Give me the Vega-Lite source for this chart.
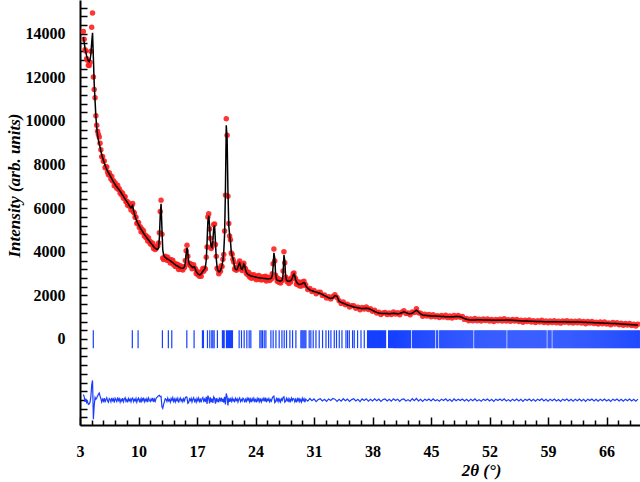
{
"$schema":"https://vega.github.io/schema/vega-lite/v6.json",
"width":560,"height":425,"autosize":"none",
"padding":{"left":80,"top":0,"right":0,"bottom":57},
"background":"white",
"config":{"view":{"stroke":null},
"axis":{"domainColor":"black","domainWidth":2,"tickColor":"black","tickWidth":1.5,"grid":false,"labelFont":"Liberation Serif","labelFontWeight":"bold","labelFontSize":16,"labelColor":"black","titleFont":"Liberation Serif","titleFontWeight":"bold","titleFontStyle":"italic","titleColor":"black","labelOverlap":false,"labelFlush":false,"labelBound":false}},
"datasets":{
"bragg":[4.59,9.26,9.95,12.86,13.57,13.98,15.78,16.65,17.65,17.77,18.25,18.53,18.77,18.9,19.05,19.44,20.04,20.16,20.25,20.52,20.64,20.76,20.88,21.0,21.12,21.24,22.04,22.32,22.64,22.96,23.24,23.44,24.52,24.67,24.83,25.04,25.24,25.84,26.11,26.44,26.83,27.16,27.43,27.71,28.11,28.43,28.83,29.43,29.55,29.67,29.79,29.91,30.03,30.42,30.62,30.9,31.23,31.62,32.02,32.43,32.74,33.02,33.42,33.69,34.02,34.34,34.82,35.01,35.22,35.61,35.81,36.21,36.62,37.01,37.4,37.52,37.64,37.76,37.88,38.0,38.12,38.24,38.36,38.48,38.6,38.72,38.84,38.96,39.08,39.2,39.32,39.44,39.56,39.92,40.04,40.16,40.28,40.4,40.52,40.64,40.76,40.88,41.0,41.12,41.24,41.36,41.48,41.6,41.72,41.84,41.96,42.08,42.2,42.32,42.44,42.56,42.8,42.92,43.04,43.16,43.28,43.4,43.52,43.64,43.76,43.88,44.0,44.12,44.24,44.36,44.48,44.6,44.72,44.84,44.96,45.08,45.2,45.32,45.44,45.68,45.8,46.04,46.16,46.28,46.4,46.52,46.64,46.76,46.88,47.0,47.12,47.24,47.36,47.48,47.6,47.72,47.84,47.96,48.08,48.2,48.32,48.44,48.56,48.68,48.8,48.92,49.04,49.16,49.28,49.4,49.52,49.64,49.76,49.88,50.0,50.24,50.36,50.48,50.6,50.72,50.84,50.96,51.08,51.2,51.32,51.44,51.56,51.68,51.8,51.92,52.04,52.16,52.28,52.4,52.52,52.64,52.76,52.88,53.0,53.12,53.24,53.36,53.48,53.6,53.72,53.84,53.96,54.2,54.32,54.44,54.56,54.68,54.8,54.92,55.04,55.16,55.28,55.4,55.52,55.64,55.76,55.88,56.0,56.12,56.24,56.36,56.48,56.6,56.72,56.84,56.96,57.08,57.2,57.32,57.44,57.56,57.68,57.8,57.92,58.04,58.16,58.28,58.4,58.52,58.64,58.76,59.0,59.12,59.24,59.36,59.6,59.72,59.84,59.96,60.08,60.2,60.32,60.44,60.56,60.68,60.8,60.92,61.04,61.16,61.28,61.4,61.52,61.64,61.76,61.88,62.0,62.12,62.24,62.36,62.48,62.6,62.72,62.84,62.96,63.08,63.2,63.32,63.44,63.56,63.68,63.8,63.92,64.04,64.16,64.28,64.4,64.52,64.64,64.76,64.88,65.0,65.12,65.24,65.36,65.48,65.6,65.72,65.84,65.96,66.08,66.2,66.32,66.44,66.56,66.68,66.8,66.92,67.04,67.16,67.28,67.4,67.52,67.64,67.76,67.88,68.0,68.12,68.24,68.36,68.48,68.6,68.72,68.84,68.96,69.08,69.2,69.32,69.44,69.56,69.68,69.8,69.92],
"prof":[
{"x":3.4,"o":14100,"c":13850,"d":-2550},{"x":3.5,"o":13750,"c":13600,"d":-2650},{"x":3.6,"o":13270,"c":13350,"d":-2880},{"x":3.7,"o":13210,"c":13150,"d":-2740},{"x":3.8,"o":12860,"c":12980,"d":-2920},{"x":3.9,"o":12790,"c":12850,"d":-2860},{"x":4.0,"o":12560,"c":12760,"d":-3000},{"x":4.1,"o":12540,"c":12720,"d":-2980},{"x":4.2,"o":12700,"c":12800,"d":-2900},{"x":4.3,"o":13200,"c":13050,"d":-2650},
{"x":4.4,"o":14300,"c":13600,"d":-2100},{"x":4.5,"o":14950,"c":14050,"d":-1900},{"x":4.6,"o":12020,"c":12900,"d":-3680},{"x":4.7,"o":11450,"c":11700,"d":-3050},{"x":4.8,"o":11070,"c":10950,"d":-2680},{"x":4.9,"o":10240,"c":10200,"d":-2760},{"x":5.0,"o":9800,"c":9700,"d":-2700},{"x":5.1,"o":9530,"c":9350,"d":-2620},{"x":5.2,"o":9380,"c":9120,"d":-2540},{"x":5.3,"o":9270,"c":8950,"d":-2480},
{"x":5.4,"o":8980,"c":8800,"d":-2620},{"x":5.5,"o":8680,"c":8620,"d":-2740},{"x":5.6,"o":8360,"c":8450,"d":-2890},{"x":5.7,"o":8370,"c":8330,"d":-2760},{"x":5.8,"o":8150,"c":8200,"d":-2850},{"x":5.9,"o":8170,"c":8080,"d":-2710},{"x":6.0,"o":7860,"c":7970,"d":-2910},{"x":6.1,"o":7900,"c":7870,"d":-2770},{"x":6.2,"o":7890,"c":7780,"d":-2690},{"x":6.3,"o":7660,"c":7700,"d":-2840},
{"x":6.4,"o":7530,"c":7630,"d":-2900},{"x":6.5,"o":7630,"c":7560,"d":-2730},{"x":6.6,"o":7510,"c":7490,"d":-2780},{"x":6.7,"o":7340,"c":7420,"d":-2880},{"x":6.8,"o":7450,"c":7350,"d":-2700},{"x":6.9,"o":7250,"c":7280,"d":-2830},{"x":7.0,"o":7260,"c":7210,"d":-2750},{"x":7.1,"o":7030,"c":7150,"d":-2920},{"x":7.2,"o":7170,"c":7090,"d":-2720},{"x":7.3,"o":7040,"c":7030,"d":-2790},
{"x":7.4,"o":6910,"c":6980,"d":-2870},{"x":7.5,"o":7050,"c":6930,"d":-2680},{"x":7.6,"o":6860,"c":6880,"d":-2820},{"x":7.7,"o":6890,"c":6830,"d":-2740},{"x":7.8,"o":6680,"c":6780,"d":-2900},{"x":7.9,"o":6750,"c":6720,"d":-2770},{"x":8.0,"o":6610,"c":6660,"d":-2850},{"x":8.1,"o":6690,"c":6600,"d":-2710},{"x":8.2,"o":6460,"c":6540,"d":-2880},{"x":8.3,"o":6520,"c":6480,"d":-2760},
{"x":8.4,"o":6530,"c":6420,"d":-2690},{"x":8.5,"o":6300,"c":6360,"d":-2860},{"x":8.6,"o":6320,"c":6300,"d":-2780},{"x":8.7,"o":6130,"c":6240,"d":-2910},{"x":8.8,"o":6250,"c":6180,"d":-2730},{"x":8.9,"o":6090,"c":6120,"d":-2830},{"x":9.0,"o":6110,"c":6060,"d":-2750},{"x":9.1,"o":5920,"c":6010,"d":-2890},{"x":9.2,"o":6140,"c":6080,"d":-2740},{"x":9.3,"o":6220,"c":6120,"d":-2700},
{"x":9.4,"o":5830,"c":5900,"d":-2870},{"x":9.5,"o":5780,"c":5750,"d":-2770},{"x":9.6,"o":5580,"c":5620,"d":-2840},{"x":9.7,"o":5580,"c":5500,"d":-2720},{"x":9.8,"o":5300,"c":5400,"d":-2900},{"x":9.9,"o":5340,"c":5320,"d":-2780},{"x":10.0,"o":5340,"c":5250,"d":-2710},{"x":10.1,"o":5120,"c":5180,"d":-2860},{"x":10.2,"o":5150,"c":5110,"d":-2760},{"x":10.3,"o":4920,"c":5040,"d":-2920},
{"x":10.4,"o":5050,"c":4980,"d":-2730},{"x":10.5,"o":4900,"c":4920,"d":-2820},{"x":10.6,"o":4970,"c":4860,"d":-2690},{"x":10.7,"o":4720,"c":4800,"d":-2880},{"x":10.8,"o":4770,"c":4740,"d":-2770},{"x":10.9,"o":4640,"c":4690,"d":-2850},{"x":11.0,"o":4700,"c":4640,"d":-2740},{"x":11.1,"o":4490,"c":4590,"d":-2900},{"x":11.2,"o":4630,"c":4540,"d":-2710},{"x":11.3,"o":4490,"c":4490,"d":-2800},
{"x":11.4,"o":4370,"c":4440,"d":-2870},{"x":11.5,"o":4440,"c":4390,"d":-2750},{"x":11.6,"o":4310,"c":4340,"d":-2830},{"x":11.7,"o":4390,"c":4290,"d":-2700},{"x":11.8,"o":4150,"c":4240,"d":-2890},{"x":11.9,"o":4240,"c":4200,"d":-2760},{"x":12.0,"o":4100,"c":4160,"d":-2860},{"x":12.1,"o":4210,"c":4130,"d":-2720},{"x":12.2,"o":4230,"c":4110,"d":-2680},{"x":12.3,"o":4270,"c":4110,"d":-2640},
{"x":12.4,"o":4400,"c":4200,"d":-2600},{"x":12.5,"o":4870,"c":4650,"d":-2580},{"x":12.6,"o":5850,"c":5700,"d":-2650},{"x":12.7,"o":6370,"c":6200,"d":-2630},{"x":12.8,"o":4800,"c":5100,"d":-3100},{"x":12.9,"o":3720,"c":4100,"d":-3180},{"x":13.0,"o":3650,"c":3850,"d":-3000},{"x":13.1,"o":3700,"c":3780,"d":-2880},{"x":13.2,"o":3800,"c":3740,"d":-2740},{"x":13.3,"o":3740,"c":3710,"d":-2770},
{"x":13.4,"o":3610,"c":3680,"d":-2870},{"x":13.5,"o":3750,"c":3660,"d":-2710},{"x":13.6,"o":3600,"c":3640,"d":-2840},{"x":13.7,"o":3640,"c":3620,"d":-2780},{"x":13.8,"o":3490,"c":3590,"d":-2900},{"x":13.9,"o":3630,"c":3560,"d":-2730},{"x":14.0,"o":3510,"c":3530,"d":-2820},{"x":14.1,"o":3610,"c":3500,"d":-2690},{"x":14.2,"o":3410,"c":3470,"d":-2860},{"x":14.3,"o":3480,"c":3440,"d":-2760},
{"x":14.4,"o":3320,"c":3410,"d":-2890},{"x":14.5,"o":3440,"c":3380,"d":-2740},{"x":14.6,"o":3330,"c":3360,"d":-2830},{"x":14.7,"o":3420,"c":3340,"d":-2720},{"x":14.8,"o":3190,"c":3310,"d":-2920},{"x":14.9,"o":3300,"c":3290,"d":-2790},{"x":15.0,"o":3360,"c":3270,"d":-2710},{"x":15.1,"o":3200,"c":3250,"d":-2850},{"x":15.2,"o":3270,"c":3240,"d":-2770},{"x":15.3,"o":3160,"c":3240,"d":-2880},
{"x":15.4,"o":3320,"c":3260,"d":-2740},{"x":15.5,"o":3280,"c":3320,"d":-2840},{"x":15.6,"o":3600,"c":3500,"d":-2700},{"x":15.7,"o":4050,"c":3900,"d":-2650},{"x":15.8,"o":4300,"c":4180,"d":-2680},{"x":15.9,"o":3800,"c":3950,"d":-2950},{"x":16.0,"o":3430,"c":3550,"d":-2920},{"x":16.1,"o":3470,"c":3420,"d":-2750},{"x":16.2,"o":3360,"c":3380,"d":-2820},{"x":16.3,"o":3430,"c":3350,"d":-2720},
{"x":16.4,"o":3220,"c":3310,"d":-2890},{"x":16.5,"o":3320,"c":3280,"d":-2760},{"x":16.6,"o":3410,"c":3300,"d":-2690},{"x":16.7,"o":3250,"c":3310,"d":-2860},{"x":16.8,"o":3220,"c":3200,"d":-2780},{"x":16.9,"o":3000,"c":3100,"d":-2900},{"x":17.0,"o":3110,"c":3040,"d":-2730},{"x":17.1,"o":2950,"c":2990,"d":-2840},{"x":17.2,"o":3050,"c":2960,"d":-2710},{"x":17.3,"o":2880,"c":2950,"d":-2870},
{"x":17.4,"o":2990,"c":2960,"d":-2770},{"x":17.5,"o":2880,"c":2990,"d":-2910},{"x":17.6,"o":3110,"c":3050,"d":-2740},{"x":17.7,"o":3230,"c":3110,"d":-2680},{"x":17.8,"o":3110,"c":3160,"d":-2850},{"x":17.9,"o":3240,"c":3200,"d":-2760},{"x":18.0,"o":3210,"c":3300,"d":-2890},{"x":18.1,"o":3750,"c":3600,"d":-2650},{"x":18.2,"o":4220,"c":4400,"d":-2980},{"x":18.3,"o":5600,"c":5400,"d":-2600},
{"x":18.4,"o":5750,"c":5650,"d":-2700},{"x":18.5,"o":5050,"c":5200,"d":-2950},{"x":18.6,"o":4620,"c":4500,"d":-2680},{"x":18.7,"o":4150,"c":4250,"d":-2900},{"x":18.8,"o":4260,"c":4200,"d":-2740},{"x":18.9,"o":4370,"c":4500,"d":-2930},{"x":19.0,"o":5250,"c":5100,"d":-2650},{"x":19.1,"o":5280,"c":5200,"d":-2720},{"x":19.2,"o":4330,"c":4500,"d":-2970},{"x":19.3,"o":3790,"c":3700,"d":-2710},
{"x":19.4,"o":3240,"c":3300,"d":-2860},{"x":19.5,"o":3190,"c":3150,"d":-2760},{"x":19.6,"o":2990,"c":3090,"d":-2900},{"x":19.7,"o":3160,"c":3090,"d":-2730},{"x":19.8,"o":3110,"c":3140,"d":-2830},{"x":19.9,"o":3360,"c":3250,"d":-2690},{"x":20.0,"o":3320,"c":3400,"d":-2880},{"x":20.1,"o":3660,"c":3600,"d":-2740},{"x":20.2,"o":3880,"c":4000,"d":-2920},{"x":20.3,"o":4950,"c":4800,"d":-2650},
{"x":20.4,"o":6600,"c":6800,"d":-3000},{"x":20.5,"o":10100,"c":9800,"d":-2500},{"x":20.6,"o":9350,"c":9200,"d":-2650},{"x":20.7,"o":6550,"c":6800,"d":-3050},{"x":20.8,"o":5300,"c":5200,"d":-2700},{"x":20.9,"o":4720,"c":4800,"d":-2880},{"x":21.0,"o":4550,"c":4500,"d":-2750},{"x":21.1,"o":3940,"c":4000,"d":-2860},{"x":21.2,"o":3890,"c":3800,"d":-2710},{"x":21.3,"o":3660,"c":3700,"d":-2840},
{"x":21.4,"o":3530,"c":3500,"d":-2770},{"x":21.5,"o":3200,"c":3300,"d":-2900},{"x":21.6,"o":3280,"c":3200,"d":-2720},{"x":21.7,"o":3150,"c":3170,"d":-2820},{"x":21.8,"o":3260,"c":3200,"d":-2740},{"x":21.9,"o":3210,"c":3300,"d":-2890},{"x":22.0,"o":3460,"c":3420,"d":-2760},{"x":22.1,"o":3580,"c":3480,"d":-2700},{"x":22.2,"o":3280,"c":3350,"d":-2870},{"x":22.3,"o":3220,"c":3200,"d":-2780},
{"x":22.4,"o":3140,"c":3190,"d":-2850},{"x":22.5,"o":3390,"c":3300,"d":-2710},{"x":22.6,"o":3480,"c":3430,"d":-2750},{"x":22.7,"o":3270,"c":3380,"d":-2910},{"x":22.8,"o":3210,"c":3180,"d":-2770},{"x":22.9,"o":3000,"c":3060,"d":-2860},{"x":23.0,"o":3080,"c":3000,"d":-2720},{"x":23.1,"o":2940,"c":2960,"d":-2820},{"x":23.2,"o":3050,"c":2940,"d":-2690},{"x":23.3,"o":2840,"c":2920,"d":-2880},
{"x":23.4,"o":2940,"c":2900,"d":-2760},{"x":23.5,"o":2790,"c":2890,"d":-2900},{"x":23.6,"o":2940,"c":2880,"d":-2740},{"x":23.7,"o":2840,"c":2870,"d":-2830},{"x":23.8,"o":2950,"c":2860,"d":-2710},{"x":23.9,"o":2790,"c":2850,"d":-2860},{"x":24.0,"o":2860,"c":2840,"d":-2780},{"x":24.1,"o":2720,"c":2830,"d":-2910},{"x":24.2,"o":2890,"c":2820,"d":-2730},{"x":24.3,"o":2775,"c":2815,"d":-2840},
{"x":24.4,"o":2910,"c":2810,"d":-2700},{"x":24.5,"o":2735,"c":2805,"d":-2870},{"x":24.6,"o":2830,"c":2800,"d":-2770},{"x":24.7,"o":2705,"c":2795,"d":-2890},{"x":24.8,"o":2840,"c":2790,"d":-2750},{"x":24.9,"o":2765,"c":2785,"d":-2820},{"x":25.0,"o":2860,"c":2780,"d":-2720},{"x":25.1,"o":2715,"c":2775,"d":-2860},{"x":25.2,"o":2880,"c":2770,"d":-2690},{"x":25.3,"o":2665,"c":2765,"d":-2900},
{"x":25.4,"o":2800,"c":2760,"d":-2760},{"x":25.5,"o":2730,"c":2760,"d":-2830},{"x":25.6,"o":2830,"c":2760,"d":-2730},{"x":25.7,"o":2680,"c":2760,"d":-2880},{"x":25.8,"o":2790,"c":2770,"d":-2780},{"x":25.9,"o":2750,"c":2800,"d":-2850},{"x":26.0,"o":2990,"c":2900,"d":-2710},{"x":26.1,"o":3450,"c":3300,"d":-2650},{"x":26.2,"o":4130,"c":3950,"d":-2620},{"x":26.3,"o":3580,"c":3700,"d":-2920},
{"x":26.4,"o":2920,"c":3000,"d":-2880},{"x":26.5,"o":2810,"c":2750,"d":-2740},{"x":26.6,"o":2650,"c":2690,"d":-2840},{"x":26.7,"o":2780,"c":2680,"d":-2700},{"x":26.8,"o":2600,"c":2670,"d":-2870},{"x":26.9,"o":2690,"c":2660,"d":-2770},{"x":27.0,"o":2570,"c":2660,"d":-2890},{"x":27.1,"o":2720,"c":2670,"d":-2750},{"x":27.2,"o":2680,"c":2700,"d":-2820},{"x":27.3,"o":3120,"c":3000,"d":-2680},
{"x":27.4,"o":4000,"c":3850,"d":-2650},{"x":27.5,"o":3500,"c":3600,"d":-2900},{"x":27.6,"o":2840,"c":2900,"d":-2860},{"x":27.7,"o":2780,"c":2700,"d":-2720},{"x":27.8,"o":2630,"c":2660,"d":-2830},{"x":27.9,"o":2710,"c":2650,"d":-2740},{"x":28.0,"o":2550,"c":2650,"d":-2900},{"x":28.1,"o":2700,"c":2660,"d":-2760},{"x":28.2,"o":2620,"c":2680,"d":-2860},{"x":28.3,"o":2810,"c":2720,"d":-2710},
{"x":28.4,"o":2780,"c":2800,"d":-2820},{"x":28.5,"o":2990,"c":2920,"d":-2730},{"x":28.6,"o":3030,"c":2980,"d":-2750},{"x":28.7,"o":2820,"c":2900,"d":-2880},{"x":28.8,"o":2750,"c":2720,"d":-2770},{"x":28.9,"o":2510,"c":2620,"d":-2910},{"x":29.0,"o":2620,"c":2560,"d":-2740},{"x":29.1,"o":2490,"c":2530,"d":-2840},{"x":29.2,"o":2610,"c":2510,"d":-2700},{"x":29.3,"o":2430,"c":2500,"d":-2870},
{"x":29.4,"o":2530,"c":2510,"d":-2780},{"x":29.5,"o":2430,"c":2520,"d":-2890},{"x":29.6,"o":2620,"c":2540,"d":-2720},{"x":29.7,"o":2540,"c":2570,"d":-2830},{"x":29.8,"o":2650,"c":2590,"d":-2740},{"x":29.9,"o":2460,"c":2560,"d":-2900},{"x":30.0,"o":2490,"c":2450,"d":-2760},
{"x":30.25,"o":2270,"c":2320,"d":-2850},{"x":30.5,"o":2320,"c":2250,"d":-2730},{"x":30.75,"o":2180,"c":2210,"d":-2830},{"x":31.0,"o":2230,"c":2180,"d":-2750},{"x":31.25,"o":2080,"c":2150,"d":-2870},{"x":31.5,"o":2140,"c":2120,"d":-2780},{"x":31.75,"o":2150,"c":2090,"d":-2740},{"x":32.0,"o":2000,"c":2040,"d":-2840},{"x":32.25,"o":2020,"c":1990,"d":-2770},{"x":32.5,"o":1880,"c":1940,"d":-2860},
{"x":32.75,"o":1940,"c":1890,"d":-2750},{"x":33.0,"o":1840,"c":1860,"d":-2820},{"x":33.25,"o":1950,"c":1880,"d":-2730},{"x":33.5,"o":2030,"c":1990,"d":-2760},{"x":33.75,"o":1900,"c":1960,"d":-2860},{"x":34.0,"o":1760,"c":1730,"d":-2770},{"x":34.25,"o":1630,"c":1680,"d":-2850},{"x":34.5,"o":1700,"c":1640,"d":-2740},{"x":34.75,"o":1570,"c":1600,"d":-2830},{"x":35.0,"o":1600,"c":1560,"d":-2760},
{"x":35.25,"o":1470,"c":1530,"d":-2860},{"x":35.5,"o":1520,"c":1500,"d":-2780},{"x":35.75,"o":1530,"c":1470,"d":-2740},{"x":36.0,"o":1410,"c":1450,"d":-2840},{"x":36.25,"o":1460,"c":1430,"d":-2770},{"x":36.5,"o":1340,"c":1410,"d":-2870},{"x":36.75,"o":1450,"c":1400,"d":-2750},{"x":37.0,"o":1380,"c":1400,"d":-2820},{"x":37.25,"o":1470,"c":1410,"d":-2740},{"x":37.5,"o":1350,"c":1400,"d":-2850},
{"x":37.75,"o":1390,"c":1360,"d":-2770},{"x":38.0,"o":1270,"c":1310,"d":-2840},{"x":38.25,"o":1320,"c":1260,"d":-2740},{"x":38.5,"o":1190,"c":1220,"d":-2830},{"x":38.75,"o":1230,"c":1190,"d":-2760},{"x":39.0,"o":1120,"c":1180,"d":-2860},{"x":39.25,"o":1195,"c":1175,"d":-2780},{"x":39.5,"o":1220,"c":1170,"d":-2750},{"x":39.75,"o":1125,"c":1165,"d":-2840},{"x":40.0,"o":1190,"c":1160,"d":-2770},
{"x":40.25,"o":1120,"c":1170,"d":-2850},{"x":40.5,"o":1240,"c":1180,"d":-2740},{"x":40.75,"o":1150,"c":1170,"d":-2820},{"x":41.0,"o":1200,"c":1160,"d":-2760},{"x":41.25,"o":1110,"c":1170,"d":-2860},{"x":41.5,"o":1230,"c":1200,"d":-2770},{"x":41.75,"o":1300,"c":1250,"d":-2750},{"x":42.0,"o":1170,"c":1210,"d":-2840},{"x":42.25,"o":1190,"c":1170,"d":-2780},{"x":42.5,"o":1110,"c":1160,"d":-2850},
{"x":42.75,"o":1240,"c":1180,"d":-2740},{"x":43.0,"o":1220,"c":1250,"d":-2830},{"x":43.25,"o":1390,"c":1320,"d":-2730},{"x":43.5,"o":1200,"c":1240,"d":-2840},{"x":43.75,"o":1180,"c":1150,"d":-2770},{"x":44.0,"o":1040,"c":1100,"d":-2860},{"x":44.25,"o":1130,"c":1090,"d":-2760},{"x":44.5,"o":1060,"c":1080,"d":-2820},{"x":44.75,"o":1120,"c":1070,"d":-2750},{"x":45.0,"o":1020,"c":1060,"d":-2840},
{"x":45.25,"o":1115,"c":1055,"d":-2740},{"x":45.5,"o":1020,"c":1050,"d":-2830},{"x":45.75,"o":1065,"c":1045,"d":-2780},{"x":46.0,"o":990,"c":1040,"d":-2850},{"x":46.25,"o":1075,"c":1035,"d":-2760},{"x":46.5,"o":1010,"c":1030,"d":-2820},{"x":46.75,"o":1085,"c":1025,"d":-2740},{"x":47.0,"o":980,"c":1020,"d":-2840},{"x":47.25,"o":1050,"c":1020,"d":-2770},{"x":47.5,"o":960,"c":1020,"d":-2860},
{"x":47.75,"o":1075,"c":1025,"d":-2750},{"x":48.0,"o":1000,"c":1030,"d":-2830},{"x":48.25,"o":1075,"c":1035,"d":-2760},{"x":48.5,"o":1000,"c":1020,"d":-2820},{"x":48.75,"o":1030,"c":980,"d":-2750},{"x":49.0,"o":900,"c":940,"d":-2840},{"x":49.25,"o":940,"c":910,"d":-2770},{"x":49.5,"o":835,"c":885,"d":-2850},{"x":49.75,"o":915,"c":875,"d":-2760},{"x":50.0,"o":840,"c":870,"d":-2830},
{"x":50.25,"o":935,"c":875,"d":-2740},{"x":50.5,"o":840,"c":880,"d":-2840},{"x":50.75,"o":905,"c":885,"d":-2780},{"x":51.0,"o":830,"c":880,"d":-2850},{"x":51.25,"o":915,"c":875,"d":-2760},{"x":51.5,"o":850,"c":870,"d":-2820},{"x":51.75,"o":918,"c":868,"d":-2750},{"x":52.0,"o":826,"c":866,"d":-2840},{"x":52.25,"o":894,"c":864,"d":-2770},{"x":52.5,"o":802,"c":862,"d":-2860},
{"x":52.75,"o":900,"c":860,"d":-2760},{"x":53.0,"o":838,"c":858,"d":-2820},{"x":53.25,"o":906,"c":856,"d":-2750},{"x":53.5,"o":830,"c":860,"d":-2830},{"x":53.75,"o":925,"c":865,"d":-2740},{"x":54.0,"o":828,"c":868,"d":-2840},{"x":54.25,"o":886,"c":866,"d":-2780},{"x":54.5,"o":812,"c":862,"d":-2850},{"x":54.75,"o":898,"c":858,"d":-2760},{"x":55.0,"o":822,"c":852,"d":-2830},
{"x":55.25,"o":896,"c":846,"d":-2750},{"x":55.5,"o":800,"c":840,"d":-2840},{"x":55.75,"o":865,"c":835,"d":-2770},{"x":56.0,"o":770,"c":830,"d":-2860},{"x":56.25,"o":866,"c":826,"d":-2760},{"x":56.5,"o":802,"c":822,"d":-2820},{"x":56.75,"o":868,"c":818,"d":-2750},{"x":57.0,"o":774,"c":814,"d":-2840},{"x":57.25,"o":840,"c":810,"d":-2770},{"x":57.5,"o":756,"c":806,"d":-2850},
{"x":57.75,"o":843,"c":803,"d":-2760},{"x":58.0,"o":780,"c":800,"d":-2820},{"x":58.25,"o":858,"c":798,"d":-2740},{"x":58.5,"o":756,"c":796,"d":-2840},{"x":58.75,"o":824,"c":794,"d":-2770},{"x":59.0,"o":742,"c":792,"d":-2850},{"x":59.25,"o":830,"c":790,"d":-2760},{"x":59.5,"o":760,"c":790,"d":-2830},{"x":59.75,"o":840,"c":790,"d":-2750},{"x":60.0,"o":750,"c":790,"d":-2840},
{"x":60.25,"o":809,"c":789,"d":-2780},{"x":60.5,"o":728,"c":788,"d":-2860},{"x":60.75,"o":827,"c":787,"d":-2760},{"x":61.0,"o":766,"c":786,"d":-2820},{"x":61.25,"o":835,"c":785,"d":-2750},{"x":61.5,"o":744,"c":784,"d":-2840},{"x":61.75,"o":813,"c":783,"d":-2770},{"x":62.0,"o":732,"c":782,"d":-2850},{"x":62.25,"o":820,"c":780,"d":-2760},{"x":62.5,"o":748,"c":778,"d":-2830},
{"x":62.75,"o":826,"c":776,"d":-2750},{"x":63.0,"o":732,"c":772,"d":-2840},{"x":63.25,"o":798,"c":768,"d":-2770},{"x":63.5,"o":704,"c":764,"d":-2860},{"x":63.75,"o":800,"c":760,"d":-2760},{"x":64.0,"o":736,"c":756,"d":-2820},{"x":64.25,"o":802,"c":752,"d":-2750},{"x":64.5,"o":708,"c":748,"d":-2840},{"x":64.75,"o":774,"c":744,"d":-2770},{"x":65.0,"o":690,"c":740,"d":-2850},
{"x":65.25,"o":776,"c":736,"d":-2760},{"x":65.5,"o":702,"c":732,"d":-2830},{"x":65.75,"o":778,"c":728,"d":-2750},{"x":66.0,"o":684,"c":724,"d":-2840},{"x":66.25,"o":740,"c":720,"d":-2780},{"x":66.5,"o":656,"c":716,"d":-2860},{"x":66.75,"o":752,"c":712,"d":-2760},{"x":67.0,"o":686,"c":706,"d":-2820},{"x":67.25,"o":750,"c":700,"d":-2750},{"x":67.5,"o":654,"c":694,"d":-2840},
{"x":67.75,"o":718,"c":688,"d":-2770},{"x":68.0,"o":632,"c":682,"d":-2850},{"x":68.25,"o":716,"c":676,"d":-2760},{"x":68.5,"o":640,"c":670,"d":-2830},{"x":68.75,"o":714,"c":664,"d":-2750},{"x":69.0,"o":618,"c":658,"d":-2840},{"x":69.25,"o":682,"c":652,"d":-2770},{"x":69.5,"o":596,"c":646,"d":-2850},{"x":69.75,"o":680,"c":640,"d":-2760}
]},
"layer":[
{"data":{"name":"prof"},"mark":{"type":"circle","color":"#ff2020","size":30,"opacity":0.9,"clip":true},
"encoding":{
"x":{"field":"x","type":"quantitative","title":"2θ (°)","scale":{"domain":[3,70],"nice":false,"zero":false},
"axis":{"values":[3,4.4,5.8,7.2,8.6,10,11.4,12.8,14.2,15.6,17,18.4,19.8,21.2,22.6,24,25.4,26.8,28.2,29.6,31,32.4,33.8,35.2,36.6,38,39.4,40.8,42.2,43.6,45,46.4,47.8,49.2,50.6,52,53.4,54.8,56.2,57.6,59,60.4,61.8,63.2,64.6,66,67.4,68.8],"tickCount":200,"format":"d","labelExpr":"datum.value % 7 == 3 ? datum.label : ''","tickSize":{"condition":{"test":"datum.value % 7 == 3","value":-8},"value":-5},"labelPadding":26,"titleFontSize":17,"titleX":401,"titleY":50,"titleAlign":"center","titleBaseline":"alphabetic"}},
"y":{"field":"o","type":"quantitative","title":"Intensity (arb. units)","scale":{"domain":[-3945,15550],"nice":false,"zero":false},
"axis":{"values":[-3600,-3200,-2800,-2400,-2000,-1600,-1200,-800,-400,0,400,800,1200,1600,2000,2400,2800,3200,3600,4000,4400,4800,5200,5600,6000,6400,6800,7200,7600,8000,8400,8800,9200,9600,10000,10400,10800,11200,11600,12000,12400,12800,13200,13600,14000,14400,14800,15200],"tickCount":200,"format":"d","labelExpr":"datum.value >= 0 && datum.value % 2000 == 0 ? datum.label : ''","tickSize":-7,"labelPadding":22,"titleFontSize":17,"titleAngle":270,"titleX":-66,"titleY":185,"titleAlign":"center","titleBaseline":"middle"}}}},
{"data":{"name":"prof"},"mark":{"type":"line","color":"black","strokeWidth":1.5,"clip":true},
"encoding":{"x":{"field":"x","type":"quantitative","title":"2θ (°)"},"y":{"field":"c","type":"quantitative","title":"Intensity (arb. units)"}}},
{"data":{"name":"bragg"},"mark":{"type":"rule","color":"#1540ff","strokeWidth":1.2,"clip":true},
"encoding":{"x":{"field":"data","type":"quantitative","title":"2θ (°)"},"y":{"datum":400,"type":"quantitative","title":"Intensity (arb. units)"},"y2":{"datum":-420}}},
{"data":{"name":"prof"},"mark":{"type":"line","color":"#1a3cff","strokeWidth":1.2,"clip":true},
"encoding":{"x":{"field":"x","type":"quantitative","title":"2θ (°)"},"y":{"field":"d","type":"quantitative","title":"Intensity (arb. units)"}}}
]
}
